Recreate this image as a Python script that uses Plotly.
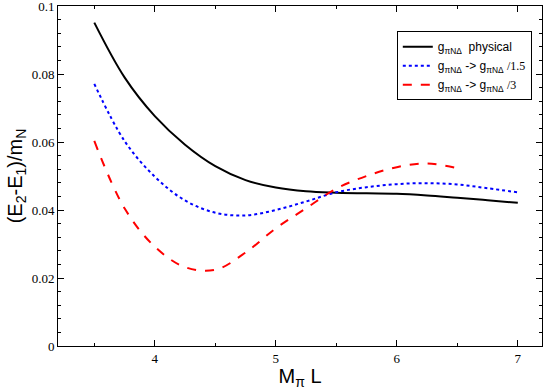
import plotly.graph_objects as go

x_full = [3.5, 3.75, 4.0, 4.25, 4.5, 4.75, 5.0, 5.25, 5.5, 5.75, 6.0, 6.25, 6.5, 6.75, 7.0]
y_phys = [0.0951, 0.0790, 0.0676, 0.0592, 0.0529, 0.0488, 0.0466, 0.0455, 0.0451, 0.0449, 0.0448, 0.0443, 0.0436, 0.0429, 0.0421]
y_15 = [0.0771, 0.0603, 0.0498, 0.0428, 0.0392, 0.0384, 0.0400, 0.0425, 0.0452, 0.0467, 0.0476, 0.0479, 0.0475, 0.0464, 0.0452]
x_red = [3.5, 3.75, 4.0, 4.25, 4.5, 4.75, 5.0, 5.25, 5.5, 5.75, 6.0, 6.25, 6.5]
y_3 = [0.0603, 0.0405, 0.0292, 0.0232, 0.0224, 0.0275, 0.0346, 0.0405, 0.0463, 0.0500, 0.0526, 0.0537, 0.0523]

x_ticks = [4, 5, 6, 7]
y_ticks = [0, 0.02, 0.04, 0.06, 0.08, 0.1]
y_labels = ["0", "0.02", "0.04", "0.06", "0.08", "0.1"]

g = "g<sub>πNΔ</sub>"
serif = "<span style=\"font-family:'Liberation Serif',serif\">"
names = [
    f"{g}  physical",
    f"{g} -> {g} {serif}/1.5</span>",
    f"{g} -> {g} {serif}/3</span>",
]

fig = go.Figure()
fig.add_trace(go.Scatter(x=x_full, y=y_phys, mode="lines", name=names[0],
                         line=dict(color="black", width=2, shape="spline")))
fig.add_trace(go.Scatter(x=x_full, y=y_15, mode="lines", name=names[1],
                         line=dict(color="#0000ff", width=2, dash="dot", shape="spline")))
fig.add_trace(go.Scatter(x=x_red, y=y_3, mode="lines", name=names[2],
                         line=dict(color="#ff0000", width=2, dash="dash", shape="spline")))

axis_common = dict(
    showgrid=False, zeroline=False, showline=True, linecolor="black", linewidth=1,
    mirror="ticks", ticks="inside", ticklen=6, tickcolor="black", tickwidth=1,
    tickfont=dict(family="Liberation Serif", size=13, color="black"),
    automargin=False, ticklabeloverflow="allow",
)

fig.update_xaxes(range=[3.2, 7.2], tickvals=x_ticks,
                 minor=dict(dtick=0.5, tick0=3.5, ticks="inside", ticklen=3, tickcolor="black"),
                 title=dict(text="M<sub>π</sub> L", font=dict(family="Liberation Sans", size=20, color="black"), standoff=1),
                 **axis_common)
fig.update_yaxes(range=[0, 0.1], tickvals=y_ticks, ticktext=y_labels,
                 minor=dict(dtick=0.004, tick0=0, ticks="inside", ticklen=3, tickcolor="black"),
                 title=dict(text="(E<sub>2</sub>-E<sub>1</sub>)/m<sub>N</sub>", font=dict(family="Liberation Sans", size=20, color="black"), standoff=3),
                 **axis_common)

fig.update_layout(
    width=545, height=390,
    margin=dict(l=58, r=3, t=6, b=44, autoexpand=False),
    plot_bgcolor="white", paper_bgcolor="white",
    showlegend=True,
    legend=dict(x=0.70, y=0.926, xanchor="left", yanchor="top",
                bordercolor="black", borderwidth=1, bgcolor="white",
                font=dict(family="Liberation Sans", size=12, color="black"),
                tracegroupgap=0, itemwidth=30),
)

fig.write_html("out.html", config={"displayModeBar": False},
               post_script="document.body.style.margin='0';document.body.style.overflow='hidden';")
